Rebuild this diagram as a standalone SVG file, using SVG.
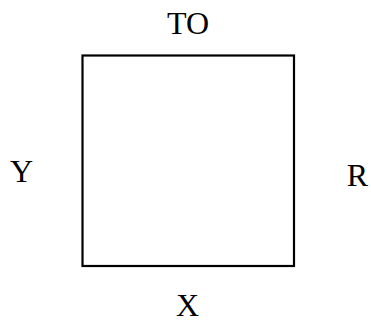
<svg xmlns="http://www.w3.org/2000/svg" width="371" height="321" viewBox="0 0 371 321">
<style>
.lbl{font-family:"Liberation Serif","DejaVu Serif",serif;font-size:32px;fill:#000;text-anchor:middle}
.box{fill:none;stroke:#000;stroke-width:2.2}
</style>
<rect x="0" y="0" width="371" height="321" fill="#fff"/>
<g id="square"><rect class="box" x="82.5" y="55.5" width="211.5" height="210.5"/></g>
<g id="connectors"></g>
<g id="label-TO"><text class="lbl" x="188" y="34">TO</text></g>
<g id="label-Y"><text class="lbl" x="21.5" y="182">Y</text></g>
<g id="label-R"><text class="lbl" x="357.5" y="186">R</text></g>
<g id="label-X"><text class="lbl" x="187.5" y="316">X</text></g>
</svg>
